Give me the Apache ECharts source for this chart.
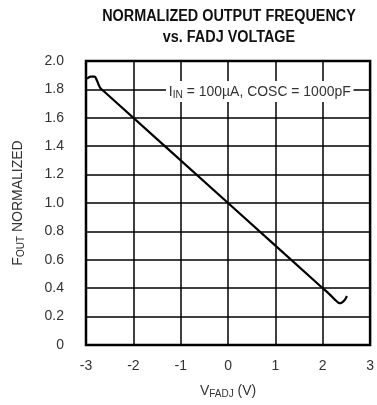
<!DOCTYPE html>
<html>
<head>
<meta charset="utf-8">
<script src="https://cdn.jsdelivr.net/npm/echarts@6/dist/echarts.min.js"></script>
<style>
html,body{margin:0;padding:0;background:#fff;}
#chart{width:377px;height:405px;}
</style>
</head>
<body>
<div id="chart"></div>
<script>
// FADJ voltage (V) vs. normalized output frequency
const vfadj = [-2.98, -2.9, -2.82, -2.76, -2.7, -2.6, 0, 2.0, 2.15, 2.26, 2.33, 2.38, 2.43, 2.48, 2.51];
const foutNorm = [1.875, 1.89, 1.89, 1.855, 1.81, 1.78, 1.0, 0.40, 0.355, 0.318, 0.298, 0.295, 0.305, 0.325, 0.345];
const xTicks = [-3, -2, -1, 0, 1, 2, 3];
const yTicks = [0, 0.2, 0.4, 0.6, 0.8, 1.0, 1.2, 1.4, 1.6, 1.8, 2.0];

const font = '"Liberation Sans", Arial, sans-serif';
const chart = echarts.init(document.getElementById('chart'));
chart.setOption({
  animation: false,
  backgroundColor: '#fff',
  grid: { left: 86, right: 5, top: 61, bottom: 60, show: true, borderColor: '#000', borderWidth: 2.5 },
  xAxis: {
    type: 'value', min: -3, max: 3, interval: 1,
    name: '{v|V}{s|FADJ}{v| (V)}', nameLocation: 'middle', nameGap: 38,
    nameTextStyle: { rich: {
      v: { fontFamily: font, fontSize: 14, color: '#333' },
      s: { fontFamily: font, fontSize: 10, color: '#333', padding: [6, 0, 0, 0] }
    } },
    axisLine: { show: false }, axisTick: { show: false },
    axisLabel: { margin: 14, fontFamily: font, fontSize: 14, color: '#333',
      formatter: v => xTicks.includes(v) ? String(v) : '' },
    splitLine: { show: true, lineStyle: { color: '#000', width: 1.5 } }
  },
  yAxis: {
    type: 'value', min: 0, max: 2, interval: 0.2,
    name: '{v|F}{s|OUT}{v| NORMALIZED}', nameLocation: 'middle', nameGap: 60, nameRotate: 90,
    nameTextStyle: { rich: {
      v: { fontFamily: font, fontSize: 14, color: '#333' },
      s: { fontFamily: font, fontSize: 10, color: '#333', padding: [6, 0, 0, 0] }
    } },
    axisLine: { show: false }, axisTick: { show: false },
    axisLabel: { margin: 22, fontFamily: font, fontSize: 14, color: '#333',
      formatter: v => { const t = yTicks.find(y => Math.abs(y - v) < 1e-6); return t === undefined ? '' : (t === 0 ? '0' : t.toFixed(1)); } },
    splitLine: { show: true, lineStyle: { color: '#000', width: 1.5 } }
  },
  series: [{
    type: 'line', smooth: 0.3, symbol: 'none',
    data: vfadj.map((x, i) => [x, foutNorm[i]]),
    lineStyle: { color: '#000', width: 2.2 }
  }],
  graphic: [{
    // condensed bold heading
    type: 'text', x: 229, y: 6, scaleX: 0.9, originX: 0, originY: 0, z: 100,
    style: {
      x: 0, y: 0, textAlign: 'center',
      text: 'NORMALIZED OUTPUT FREQUENCY\nvs. FADJ VOLTAGE',
      font: 'bold 16px ' + font, lineHeight: 21, fill: '#111'
    }
  }, {
    // test-condition note sitting on the 1.8 gridline
    type: 'text', x: 166, y: 81, scaleX: 0.93, originX: 0, originY: 0, z: 100,
    style: {
      x: 0, y: 0,
      text: '{v|I}{s|IN}{v| = 100µA, COSC = 1000pF}',
      backgroundColor: '#fff', padding: [2, 3, 2, 3],
      rich: {
        v: { fontFamily: font, fontSize: 15, fill: '#333' },
        s: { fontFamily: font, fontSize: 11, fill: '#333', padding: [6, 0, 0, 0] }
      }
    }
  }]
});
</script>
</body>
</html>
